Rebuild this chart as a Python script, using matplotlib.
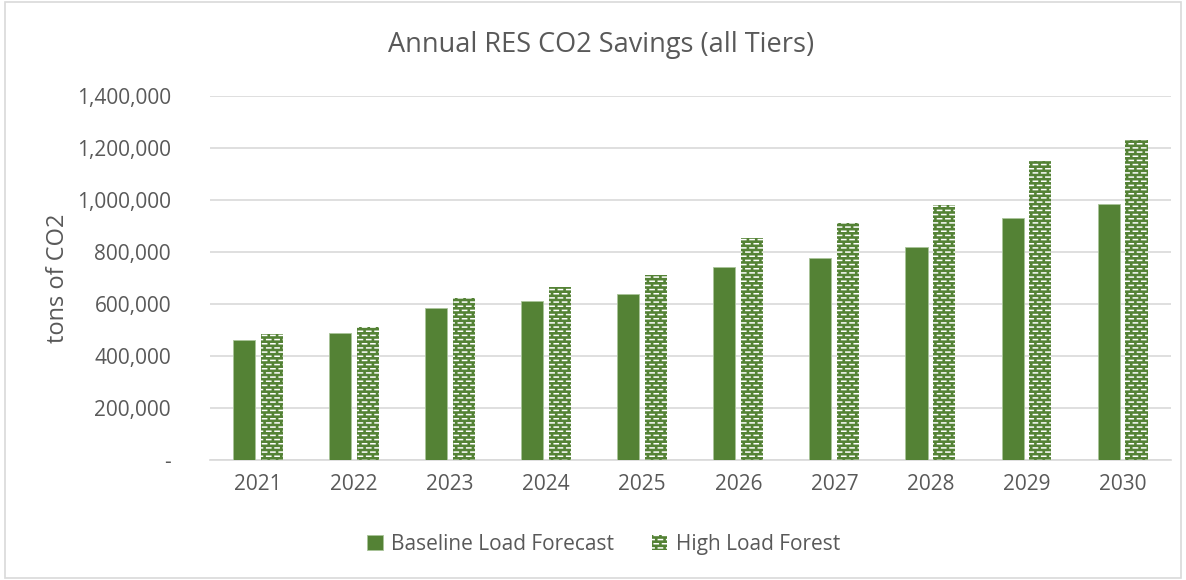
import matplotlib
matplotlib.use('Agg')
import matplotlib.pyplot as plt
import matplotlib.hatch as mhatch
from matplotlib.path import Path
import numpy as np
from matplotlib.ticker import FuncFormatter

years = ['2021', '2022', '2023', '2024', '2025', '2026', '2027', '2028', '2029', '2030']
baseline = [463000, 490000, 586000, 613000, 640000, 744000, 779000, 818000, 933000, 987000]
high_load = [486000, 513000, 625000, 667000, 713000, 856000, 914000, 980000, 1149000, 1230000]

green = '#548235'
grey_text = '#595959'


# staggered short white dashes, like the Excel "small brick" pattern
class BrickDashes(mhatch.HatchPatternBase):
    def __init__(self, hatch, density):
        self.n = 12 if '-' in hatch else 0
        self.num_vertices = self.n * 2 * self.n * 2

    def set_vertices_and_codes(self, vertices, codes):
        n = self.n
        k = 0
        for r in range(2 * n):
            y = (r + 0.5) / (2 * n)
            off = (r % 2) * 0.5 / n
            for j in range(n):
                x0 = j / n + off
                vertices[k] = (x0, y)
                vertices[k + 1] = (x0 + 0.5 / n, y)
                codes[k] = Path.MOVETO
                codes[k + 1] = Path.LINETO
                k += 2


mhatch._hatch_types[:] = [BrickDashes]

plt.rcParams['font.family'] = ['Open Sans', 'DejaVu Sans']
plt.rcParams['hatch.color'] = 'white'
plt.rcParams['hatch.linewidth'] = 1.1

fig = plt.figure(figsize=(11.86, 5.8), dpi=100)
ax = fig.add_axes([0.177, 0.207, 0.81, 0.627])

x = np.arange(len(years))
w = 0.23
ax.bar(x - 0.145, baseline, w, color=green, edgecolor='#a9c49a', linewidth=0.6,
       label='Baseline Load Forecast', zorder=3)
ax.bar(x + 0.145, high_load, w, color=green, edgecolor='white', linewidth=0,
       hatch='-', label='High Load Forest', zorder=3)

ax.set_xlim(-0.5, len(years) - 0.5)
ax.set_ylim(0, 1400000)
ax.set_yticks(np.arange(0, 1400001, 200000))
ax.yaxis.set_major_formatter(FuncFormatter(lambda v, p: '-' if v == 0 else f'{int(v):,}'))
ax.set_xticks(x)
ax.set_xticklabels(years)
ax.grid(axis='y', color='#d9d9d9', linewidth=1.2, zorder=0)
for s in ['top', 'right', 'left']:
    ax.spines[s].set_visible(False)
ax.spines['bottom'].set_color('#d9d9d9')
ax.spines['bottom'].set_linewidth(1.2)
ax.tick_params(axis='both', length=0, colors=grey_text, labelsize=15)
ax.tick_params(axis='y', pad=28)
ax.tick_params(axis='x', pad=10)
ax.set_ylabel('tons of CO2', color=grey_text, fontsize=17, labelpad=5)

fig.text(0.507, 0.922, 'Annual RES CO2 Savings (all Tiers)', color=grey_text, fontsize=19.5,
         ha='center', va='center')

leg = fig.legend(loc='center', bbox_to_anchor=(0.509, 0.062), ncol=2, frameon=False,
                 fontsize=15, handlelength=0.75, handleheight=0.75, columnspacing=1.8,
                 handletextpad=0.4)
for t in leg.get_texts():
    t.set_color(grey_text)

fig.patches.append(plt.Rectangle((0.004, 0.004), 0.992, 0.992, transform=fig.transFigure,
                                 fill=False, edgecolor='#d9d9d9', linewidth=1.2))

fig.savefig('out.png', dpi=100)
plt.close(fig)
